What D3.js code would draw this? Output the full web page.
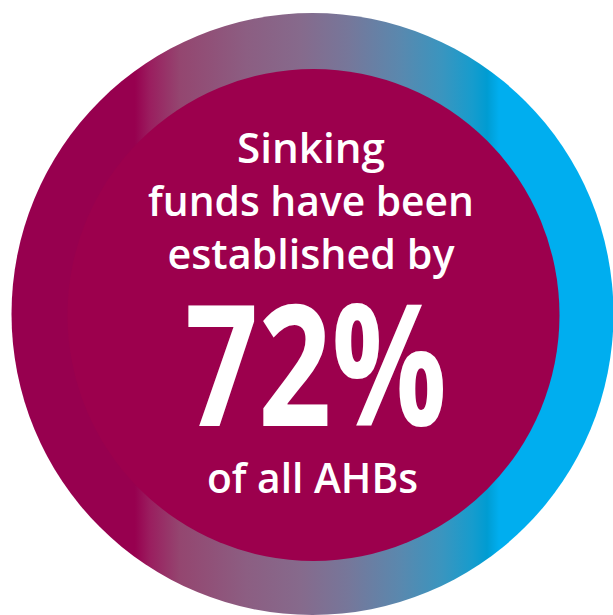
<!DOCTYPE html>
<html><head><meta charset="utf-8">
<script src="https://cdn.jsdelivr.net/npm/d3@7"></script>
<style>html,body{margin:0;padding:0;background:#fff;overflow:hidden}</style>
</head><body>
<svg id="c" width="613" height="615"></svg>
<script>
const value = [72];
const headLines = ["Sinking", "funds have been", "established by"];
const footLines = ["of all AHBs"];
const gradStops = [
  {o: 0.00, c: "#97004F"}, {o: 0.205, c: "#97004F"}, {o: 0.23, c: "#9A1E5F"},
  {o: 0.28, c: "#944670"}, {o: 0.39, c: "#8C5E82"}, {o: 0.48, c: "#866A8C"},
  {o: 0.56, c: "#76779A"}, {o: 0.645, c: "#5A88AE"}, {o: 0.715, c: "#3A95BF"},
  {o: 0.765, c: "#179CCD"}, {o: 0.79, c: "#009CD2"}, {o: 0.81, c: "#00AEEF"},
  {o: 1.00, c: "#00AEEF"}
];

const svg = d3.select("#c");
const cx = 312.5, cy = 314, rOuter = 301, rInner = 246;
const defs = svg.append("defs");
const lg = defs.append("linearGradient").attr("id", "g")
  .attr("gradientUnits", "userSpaceOnUse")
  .attr("x1", cx - rOuter).attr("x2", cx + rOuter).attr("y1", 0).attr("y2", 0);
lg.selectAll("stop").data(gradStops).join("stop")
  .attr("offset", d => d.o).attr("stop-color", d => d.c);

svg.append("circle").attr("cx", cx).attr("cy", cy).attr("r", rOuter).attr("fill", "url(#g)");
svg.append("circle").attr("cx", cx + 1).attr("cy", cy + 1).attr("r", rInner).attr("fill", "#9C004D");

const font = "'Open Sans', sans-serif";
const headW = [148, 326, 287];
const headY = d3.scaleLinear().domain([0, 1]).range([163, 216]);
svg.selectAll("text.h").data(headLines).join("text").attr("class", "h")
  .attr("x", 311).attr("y", (d, i) => headY(i))
  .attr("text-anchor", "middle").attr("fill", "#fff")
  .attr("font-family", font).attr("font-weight", 600).attr("font-size", 42)
  .attr("textLength", (d, i) => headW[i]).attr("lengthAdjust", "spacingAndGlyphs")
  .text(d => d);

svg.append("text").datum(value[0])
  .attr("x", 316).attr("y", 426)
  .attr("text-anchor", "middle").attr("fill", "#fff")
  .attr("font-family", font).attr("font-weight", 700).attr("font-size", 168)
  .attr("textLength", 262).attr("lengthAdjust", "spacingAndGlyphs")
  .text(d => d + "%");

svg.selectAll("text.f").data(footLines).join("text").attr("class", "f")
  .attr("x", 312.5).attr("y", 493)
  .attr("text-anchor", "middle").attr("fill", "#fff")
  .attr("font-family", font).attr("font-weight", 600).attr("font-size", 42)
  .attr("textLength", 211).attr("lengthAdjust", "spacingAndGlyphs")
  .text(d => d);
</script>
</body></html>
